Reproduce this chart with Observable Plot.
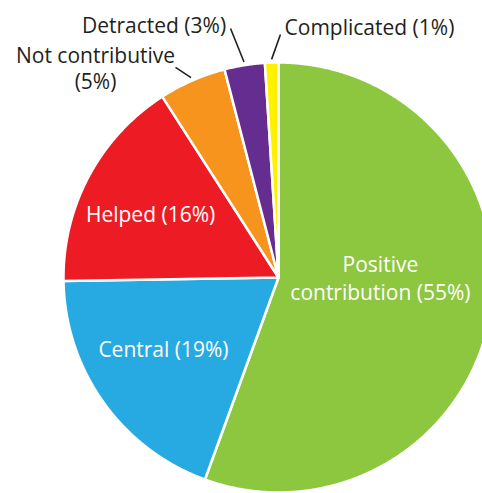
<!DOCTYPE html>
<html><head><meta charset="utf-8">
<script src="https://cdn.jsdelivr.net/npm/d3@7"></script>
<script src="https://cdn.jsdelivr.net/npm/@observablehq/plot@0.6"></script>
<style>html,body{margin:0;padding:0;background:#fff;overflow:hidden}svg{display:block}</style>
</head><body><div id="chart"></div>
<script>
// ---- data ----
const categories = ["Positive contribution", "Central", "Helped", "Not contributive", "Detracted", "Complicated"];
const values = [55, 19, 16, 5, 3, 1];
const labels = ["Positive\ncontribution (55%)", "Central (19%)", "Helped (16%)", "Not contributive\n(5%)", "Detracted (3%)", "Complicated (1%)"];
const colors = ["#8dc63f", "#27aae1", "#ed1c24", "#f7941d", "#662d91", "#fff200"];

// ---- layout (pixels / radius units) ----
const W = 482, H = 493, CX = 278, CY = 277, R = 215;
const inside = [true, true, true, false, false, false];
const labelPos = [[0.474, 0.0], [-0.535, -0.326], [-0.595, 0.302], [-0.851, 0.977], [-0.579, 1.177], [0.423, 1.167]];
const leaderEnd = [null, null, null, [-0.479, 0.977], [-0.223, 1.158], [0.009, 1.130]];

const arcs = d3.pie().sort(null).value(d => d)(values);
const pts = [];
arcs.forEach((a, i) => {
  pts.push({cat: categories[i], u: 0, v: 0});
  const n = Math.max(4, Math.ceil((a.endAngle - a.startAngle) / 0.005));
  for (let k = 0; k <= n; k++) {
    const t = a.startAngle + (a.endAngle - a.startAngle) * k / n;
    pts.push({cat: categories[i], u: Math.sin(t), v: Math.cos(t)});
  }
  pts.push({cat: categories[i], u: 0, v: 0});
});

const textData = labels.map((l, i) => ({label: l, u: labelPos[i][0], v: labelPos[i][1], inside: inside[i]}));
const leaders = arcs.map((a, i) => {
  if (!leaderEnd[i]) return null;
  const m = (a.startAngle + a.endAngle) / 2;
  return {u1: 1.015 * Math.sin(m), v1: 1.015 * Math.cos(m), u2: leaderEnd[i][0], v2: leaderEnd[i][1]};
}).filter(d => d);

const chart = Plot.plot({
  width: W, height: H, margin: 0,
  style: {background: "#fff", fontFamily: "'Open Sans', sans-serif"},
  x: {domain: [(0 - CX) / R, (W - CX) / R], range: [0, W], axis: null},
  y: {domain: [(CY - H) / R, CY / R], range: [H, 0], axis: null},
  color: {domain: categories, range: colors},
  marks: [
    Plot.line(pts, {x: "u", y: "v", z: "cat", fill: "cat", stroke: "#fff", strokeWidth: 2.5, strokeLinejoin: "round", curve: "linear-closed", clip: true}),
    Plot.link(leaders, {x1: "u1", y1: "v1", x2: "u2", y2: "v2", stroke: "#231f20", strokeWidth: 1.6}),
    Plot.text(textData.filter(d => d.inside), {x: "u", y: "v", text: "label", fill: "#fff", fontSize: 21, lineHeight: 1.33, textAnchor: "middle", lineAnchor: "middle"}),
    Plot.text(textData.filter(d => !d.inside), {x: "u", y: "v", text: "label", fill: "#231f20", fontSize: 21, lineHeight: 1.24, textAnchor: "middle", lineAnchor: "middle"})
  ]
});
document.getElementById("chart").appendChild(chart);
</script>
</body></html>
